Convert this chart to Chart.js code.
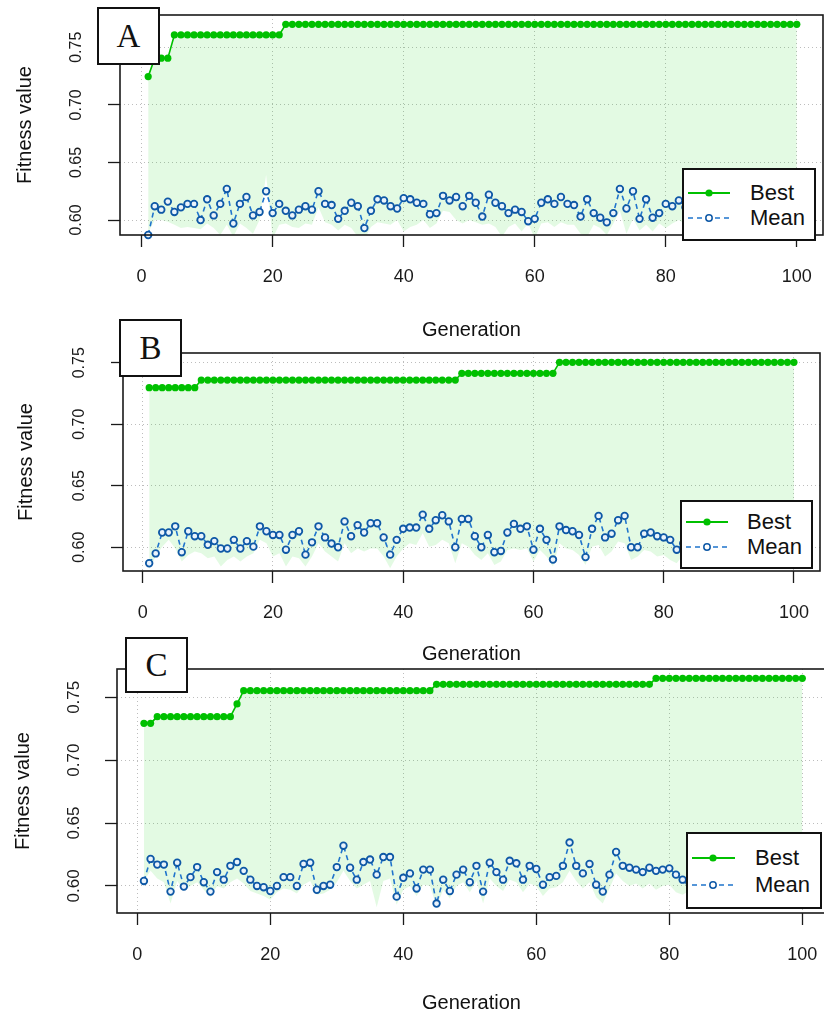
<!DOCTYPE html>
<html>
<head>
<meta charset="utf-8">
<script src="https://cdn.jsdelivr.net/npm/chart.js@4.4.1/dist/chart.umd.min.js"></script>
<style>
html,body{margin:0;padding:0;background:#fff;}
body{width:824px;height:1017px;overflow:hidden;position:relative;font-family:"Liberation Sans",Arial,sans-serif;}
canvas{position:absolute;left:0;}
.tag{position:absolute;box-sizing:border-box;border:2px solid #111;background:#fff;font-family:"Liberation Serif","Times New Roman",serif;font-size:33px;color:#111;display:flex;align-items:center;justify-content:center;z-index:5;}
.leg{position:absolute;box-sizing:border-box;border:2px solid #111;background:#fff;z-index:5;}
.leg svg{position:absolute;left:0;top:0;}
.leg span{position:absolute;font-size:22px;line-height:24px;color:#111;white-space:nowrap;}
</style>
</head>
<body>
<canvas id="cA" width="824" height="345" style="top:0px"></canvas>
<canvas id="cB" width="824" height="330" style="top:340px"></canvas>
<canvas id="cC" width="830" height="357" style="top:660px"></canvas>
<script>
// ---------- data ----------
const generations = Array.from({length: 100}, (_, i) => i + 1);
const xTickValues = [0, 20, 40, 60, 80, 100];
const yTickValues = [0.60, 0.65, 0.70, 0.75];
const seriesNames = ['Best', 'Mean'];
const axisTitleX = 'Generation';
const axisTitleY = 'Fitness value';
const panelLabels = ['A', 'B', 'C'];

const bestA = [
  0.7245,0.7405,0.7405,0.7405,0.7607,0.7607,0.7607,0.7607,0.7607,0.7607,
  0.7607,0.7607,0.7607,0.7607,0.7607,0.7607,0.7607,0.7607,0.7607,0.7607,
  0.7607,0.7699,0.7699,0.7699,0.7699,0.7699,0.7699,0.7699,0.7699,0.7699,
  0.7699,0.7699,0.7699,0.7699,0.7699,0.7699,0.7699,0.7699,0.7699,0.7699,
  0.7699,0.7699,0.7699,0.7699,0.7699,0.7699,0.7699,0.7699,0.7699,0.7699,
  0.7699,0.7699,0.7699,0.7699,0.7699,0.7699,0.7699,0.7699,0.7699,0.7699,
  0.7699,0.7699,0.7699,0.7699,0.7699,0.7699,0.7699,0.7699,0.7699,0.7699,
  0.7699,0.7699,0.7699,0.7699,0.7699,0.7699,0.7699,0.7699,0.7699,0.7699,
  0.7699,0.7699,0.7699,0.7699,0.7699,0.7699,0.7699,0.7699,0.7699,0.7699,
  0.7699,0.7699,0.7699,0.7699,0.7699,0.7699,0.7699,0.7699,0.7699,0.7699
];
const meanA = [
  0.587,0.612,0.609,0.616,0.607,0.611,0.614,0.614,0.600,0.618,
  0.604,0.614,0.627,0.597,0.614,0.620,0.604,0.607,0.625,0.606,
  0.614,0.608,0.604,0.609,0.612,0.609,0.625,0.614,0.613,0.601,
  0.608,0.615,0.612,0.593,0.608,0.618,0.617,0.612,0.610,0.619,
  0.618,0.615,0.614,0.605,0.606,0.621,0.617,0.620,0.612,0.621,
  0.615,0.603,0.622,0.615,0.612,0.606,0.609,0.607,0.599,0.601,
  0.615,0.618,0.614,0.620,0.614,0.613,0.603,0.618,0.606,0.602,
  0.598,0.606,0.627,0.610,0.625,0.601,0.618,0.602,0.606,0.614,
  0.612,0.617,0.611,0.606,0.615,0.619,0.603,0.612,0.617,0.608,
  0.614,0.621,0.605,0.611,0.616,0.609,0.603,0.613,0.618,0.610
];
const medianA = [
  0.589,0.600,0.600,0.5985,0.596,0.593,0.594,0.593,0.592,0.597,
  0.593,0.587,0.596,0.5855,0.597,0.593,0.588,0.600,0.639,0.584,
  0.596,0.597,0.594,0.593,0.597,0.596,0.611,0.598,0.596,0.591,
  0.596,0.593,0.5855,0.583,0.594,0.598,0.597,0.596,0.600,0.590,
  0.594,0.596,0.600,0.593,0.597,0.608,0.607,0.600,0.597,0.600,
  0.598,0.596,0.597,0.594,0.5855,0.594,0.597,0.590,0.597,0.584,
  0.597,0.598,0.594,0.598,0.596,0.596,0.588,0.5855,0.596,0.593,
  0.587,0.597,0.608,0.588,0.601,0.591,0.596,0.590,0.597,0.593,
  0.597,0.600,0.596,0.592,0.598,0.601,0.589,0.595,0.599,0.593,
  0.597,0.602,0.590,0.595,0.598,0.594,0.588,0.596,0.600,0.594
];

const bestB = [
  0.7297,0.7297,0.7297,0.7297,0.7297,0.7297,0.7297,0.7297,0.7359,0.7359,
  0.7359,0.7359,0.7359,0.7359,0.7359,0.7359,0.7359,0.7359,0.7359,0.7359,
  0.7359,0.7359,0.7359,0.7359,0.7359,0.7359,0.7359,0.7359,0.7359,0.7359,
  0.7359,0.7359,0.7359,0.7359,0.7359,0.7359,0.7359,0.7359,0.7359,0.7359,
  0.7359,0.7359,0.7359,0.7359,0.7359,0.7359,0.7359,0.7359,0.7414,0.7414,
  0.7414,0.7414,0.7414,0.7414,0.7414,0.7414,0.7414,0.7414,0.7414,0.7414,
  0.7414,0.7414,0.7414,0.7503,0.7503,0.7503,0.7503,0.7503,0.7503,0.7503,
  0.7503,0.7503,0.7503,0.7503,0.7503,0.7503,0.7503,0.7503,0.7503,0.7503,
  0.7503,0.7503,0.7503,0.7503,0.7503,0.7503,0.7503,0.7503,0.7503,0.7503,
  0.7503,0.7503,0.7503,0.7503,0.7503,0.7503,0.7503,0.7503,0.7503,0.7503
];
const meanB = [
  0.587,0.595,0.612,0.612,0.617,0.596,0.613,0.609,0.609,0.602,
  0.605,0.599,0.599,0.606,0.599,0.605,0.6005,0.617,0.613,0.610,
  0.610,0.598,0.610,0.613,0.594,0.604,0.617,0.608,0.603,0.600,
  0.621,0.609,0.618,0.612,0.6195,0.6195,0.608,0.594,0.606,0.615,
  0.616,0.616,0.6265,0.615,0.622,0.626,0.621,0.600,0.623,0.623,
  0.609,0.600,0.610,0.596,0.597,0.612,0.619,0.615,0.617,0.598,
  0.615,0.606,0.590,0.617,0.614,0.613,0.610,0.592,0.615,0.6255,
  0.608,0.611,0.622,0.6255,0.600,0.600,0.611,0.612,0.609,0.608,
  0.606,0.598,0.603,0.609,0.614,0.606,0.611,0.617,0.604,0.610,
  0.613,0.607,0.600,0.612,0.618,0.609,0.605,0.614,0.611,0.607
];
const medianB = [
  0.582,0.5924,0.6005,0.606,0.599,0.5884,0.5938,0.5965,0.5951,0.591,
  0.5924,0.5843,0.5897,0.5924,0.5884,0.5924,0.5951,0.606,0.6033,0.5924,
  0.5951,0.5843,0.5924,0.591,0.5843,0.5924,0.6033,0.5965,0.5924,0.5884,
  0.6033,0.5951,0.599,0.5965,0.599,0.599,0.5924,0.583,0.5924,0.599,
  0.6033,0.6019,0.6114,0.6005,0.6019,0.606,0.6033,0.587,0.6033,0.6005,
  0.5938,0.5897,0.5951,0.5856,0.5884,0.5978,0.599,0.5978,0.599,0.5884,
  0.5978,0.5924,0.5843,0.6033,0.599,0.5978,0.5938,0.5856,0.6005,0.6019,
  0.5924,0.5965,0.6046,0.6033,0.5897,0.5924,0.5978,0.5965,0.5924,0.5938,
  0.5897,0.587,0.594,0.599,0.603,0.592,0.600,0.605,0.591,0.598,
  0.602,0.595,0.588,0.600,0.604,0.596,0.592,0.601,0.598,0.594
];

const bestC = [
  0.7293,0.7293,0.7346,0.7346,0.7346,0.7346,0.7346,0.7346,0.7346,0.7346,
  0.7346,0.7346,0.7346,0.7346,0.7447,0.7553,0.7553,0.7553,0.7553,0.7553,
  0.7553,0.7553,0.7553,0.7553,0.7553,0.7553,0.7553,0.7553,0.7553,0.7553,
  0.7553,0.7553,0.7553,0.7553,0.7553,0.7553,0.7553,0.7553,0.7553,0.7553,
  0.7553,0.7553,0.7553,0.7553,0.7603,0.7603,0.7603,0.7603,0.7603,0.7603,
  0.7603,0.7603,0.7603,0.7603,0.7603,0.7603,0.7603,0.7603,0.7603,0.7603,
  0.7603,0.7603,0.7603,0.7603,0.7603,0.7603,0.7603,0.7603,0.7603,0.7603,
  0.7603,0.7603,0.7603,0.7603,0.7603,0.7603,0.7603,0.7651,0.7651,0.7651,
  0.7651,0.7651,0.7651,0.7651,0.7651,0.7651,0.7651,0.7651,0.7651,0.7651,
  0.7651,0.7651,0.7651,0.7651,0.7651,0.7651,0.7651,0.7651,0.7651,0.7651
];
const meanC = [
  0.604,0.6215,0.617,0.617,0.5955,0.6185,0.5995,0.607,0.615,0.603,
  0.5955,0.611,0.605,0.616,0.619,0.612,0.605,0.600,0.599,0.596,
  0.600,0.607,0.607,0.600,0.6175,0.6185,0.597,0.600,0.601,0.615,
  0.632,0.6145,0.605,0.619,0.621,0.609,0.623,0.623,0.5915,0.6065,
  0.610,0.598,0.613,0.613,0.586,0.605,0.596,0.609,0.613,0.603,
  0.616,0.5955,0.6185,0.611,0.605,0.620,0.618,0.605,0.616,0.6135,
  0.601,0.607,0.608,0.616,0.6345,0.616,0.610,0.6175,0.601,0.5955,
  0.609,0.627,0.616,0.6145,0.613,0.611,0.6145,0.612,0.613,0.614,
  0.609,0.605,0.603,0.607,0.612,0.609,0.604,0.611,0.615,0.608,
  0.602,0.610,0.613,0.606,0.609,0.614,0.607,0.603,0.610,0.612
];
const medianC = [
  0.604,0.612,0.606,0.603,0.586,0.604,0.596,0.600,0.603,0.597,
  0.591,0.600,0.598,0.603,0.606,0.602,0.596,0.594,0.592,0.589,
  0.595,0.598,0.597,0.594,0.601,0.604,0.593,0.594,0.597,0.603,
  0.612,0.604,0.598,0.601,0.604,0.583,0.604,0.606,0.585,0.597,
  0.600,0.592,0.601,0.600,0.584,0.597,0.590,0.600,0.603,0.595,
  0.604,0.586,0.606,0.600,0.596,0.605,0.603,0.595,0.602,0.600,
  0.592,0.598,0.599,0.603,0.612,0.604,0.598,0.603,0.591,0.586,
  0.598,0.610,0.604,0.600,0.602,0.598,0.602,0.597,0.600,0.601,
  0.595,0.593,0.596,0.600,0.604,0.599,0.594,0.601,0.605,0.598,
  0.592,0.600,0.603,0.597,0.599,0.604,0.596,0.593,0.600,0.602
];

// ---------- styling / layout ----------
const FONT = '"Liberation Sans", Arial, sans-serif';
Chart.defaults.font.family = FONT;

const GREEN = '#00c000';
const FILL = 'rgba(0,205,0,0.11)';
const BLUE_LINE = '#1f74cc';
const BLUE_PT = '#0e58a6';

function pts(arr) { return arr.map((v, i) => ({x: generations[i], y: v})); }

const boxPlugin = {
  id: 'plotBox',
  afterDatasetsDraw(chart) {
    const {ctx, chartArea: a} = chart;
    ctx.save();
    ctx.strokeStyle = '#1a1a1a';
    ctx.lineWidth = 1.6;
    ctx.setLineDash([]);
    ctx.strokeRect(a.left, a.top, a.right - a.left, a.bottom - a.top);
    ctx.restore();
  }
};

function makePanel(id, g, best, mean, median) {
  return new Chart(document.getElementById(id), {
    type: 'line',
    data: {
      datasets: [
        {label: 'median', data: pts(median), borderWidth: 0, borderColor: 'rgba(0,0,0,0)',
         pointRadius: 0, fill: 1, backgroundColor: FILL, order: 3},
        {label: seriesNames[0], data: pts(best), borderColor: GREEN, borderWidth: 1.6,
         pointRadius: 3.6, pointBackgroundColor: GREEN, pointBorderColor: GREEN, pointBorderWidth: 0,
         fill: false, order: 1, clip: false},
        {label: seriesNames[1], data: pts(mean), borderColor: BLUE_LINE, borderWidth: 1.6, borderDash: [5, 4],
         pointRadius: 3.3, pointBorderWidth: 1.8, pointBorderColor: BLUE_PT, pointBackgroundColor: '#eaf3fc',
         fill: false, order: 2, clip: false}
      ]
    },
    options: {
      responsive: false, animation: false, events: [],
      layout: {autoPadding: false, padding: {top: g.padTop, right: g.padRight, bottom: 0, left: 0}},
      plugins: {legend: {display: false}, tooltip: {enabled: false}},
      elements: {line: {tension: 0}},
      scales: {
        x: {
          type: 'linear', min: g.xMin, max: g.xMax, bounds: 'data',
          afterBuildTicks(s) { s.ticks = xTickValues.map(v => ({value: v})); },
          afterFit(s) { s.height = g.xH; s.paddingLeft = 0; s.paddingRight = 0; },
          ticks: {callback: v => String(v), font: {size: g.xFont}, color: '#1a1a1a',
                  padding: g.xTickPad, autoSkip: false, maxRotation: 0, minRotation: 0},
          grid: {color: '#bdbdbd', lineWidth: 1, borderDash: [1, 3], tickLength: 12,
                 tickColor: '#1a1a1a', tickWidth: 1.3, tickBorderDash: [], drawTicks: true},
          border: {display: false, dash: [1, 3]},
          title: {display: true, text: axisTitleX, color: '#111', font: {size: 20},
                  padding: {top: 0, bottom: g.xTitlePad}}
        },
        y: {
          type: 'linear', min: g.yMin, max: g.yMax, bounds: 'data',
          afterBuildTicks(s) { s.ticks = yTickValues.map(v => ({value: v})); },
          afterFit(s) { s.width = g.yW; s.paddingTop = 0; s.paddingBottom = 0; },
          ticks: {callback: v => Number(v).toFixed(2), font: {size: g.yFont}, color: '#1a1a1a',
                  padding: g.yTickPad, autoSkip: false, minRotation: 90, maxRotation: 90,
                  crossAlign: 'center'},
          grid: {color: '#bdbdbd', lineWidth: 1, borderDash: [1, 3], tickLength: 12,
                 tickColor: '#1a1a1a', tickWidth: 1.3, tickBorderDash: [], drawTicks: true},
          border: {display: false, dash: [1, 3]},
          title: {display: true, text: axisTitleY, color: '#111', font: {size: 20},
                  padding: {top: g.yTitlePad, bottom: 0}}
        }
      }
    },
    plugins: [boxPlugin]
  });
}

makePanel('cA', {padTop: 15, padRight: 1, xH: 110, yW: 120, xMin: -3.3, xMax: 104.0,
  yMin: 0.587, yMax: 0.778, xFont: 18, yFont: 16, xTickPad: 19, yTickPad: 15.4,
  xTitlePad: 3, yTitlePad: 13}, bestA, meanA, medianA);
makePanel('cB', {padTop: 13, padRight: 4, xH: 99, yW: 123, xMin: -3.02, xMax: 104.0,
  yMin: 0.5807, yMax: 0.7579, xFont: 18, yFont: 16, xTickPad: 19, yTickPad: 15.4,
  xTitlePad: 4, yTitlePad: 14}, bestB, meanB, medianB);
makePanel('cC', {padTop: 9, padRight: 4, xH: 104, yW: 117, xMin: -3.05, xMax: 103.56,
  yMin: 0.5785, yMax: 0.7725, xFont: 18, yFont: 17, xTickPad: 19, yTickPad: 14.5,
  xTitlePad: 2, yTitlePad: 11}, bestC, meanC, medianC);

// ---------- panel tags ----------
const tags = [
  {left: 97, top: 7, w: 63, h: 58},
  {left: 119, top: 319, w: 63, h: 58},
  {left: 125, top: 637, w: 63, h: 56}
];
tags.forEach((t, i) => {
  const d = document.createElement('div');
  d.className = 'tag';
  d.style.cssText = `left:${t.left}px;top:${t.top}px;width:${t.w}px;height:${t.h}px`;
  d.textContent = panelLabels[i];
  document.body.appendChild(d);
});

// ---------- legends ----------
const legends = [
  {left: 682, top: 168, w: 134, h: 73, yBest: 193, yMean: 218, x0: 688, x1: 730, dot: 709, tx: 750},
  {left: 680, top: 500, w: 133, h: 69, yBest: 522, yMean: 547, x0: 686, x1: 728, dot: 707, tx: 747},
  {left: 686, top: 832, w: 136, h: 77, yBest: 858, yMean: 885, x0: 692, x1: 735, dot: 713, tx: 755}
];
legends.forEach(L => {
  const d = document.createElement('div');
  d.className = 'leg';
  d.style.cssText = `left:${L.left}px;top:${L.top}px;width:${L.w}px;height:${L.h}px`;
  const ox = L.left + 2, oy = L.top + 2;
  const yb = L.yBest - oy, ym = L.yMean - oy;
  d.innerHTML =
    `<svg width="${L.w - 4}" height="${L.h - 4}">` +
    `<line x1="${L.x0 - ox}" y1="${yb}" x2="${L.x1 - ox}" y2="${yb}" stroke="${GREEN}" stroke-width="2"/>` +
    `<circle cx="${L.dot - ox}" cy="${yb}" r="3.6" fill="${GREEN}"/>` +
    `<line x1="${L.x0 - ox}" y1="${ym}" x2="${L.x1 - ox}" y2="${ym}" stroke="${BLUE_LINE}" stroke-width="1.7" stroke-dasharray="5,4"/>` +
    `<circle cx="${L.dot - ox}" cy="${ym}" r="3.2" fill="#fff" stroke="${BLUE_PT}" stroke-width="1.5"/>` +
    `</svg>` +
    `<span style="left:${L.tx - ox}px;top:${yb - 12}px">${seriesNames[0]}</span>` +
    `<span style="left:${L.tx - ox}px;top:${ym - 12}px">${seriesNames[1]}</span>`;
  document.body.appendChild(d);
});
</script>
</body>
</html>
